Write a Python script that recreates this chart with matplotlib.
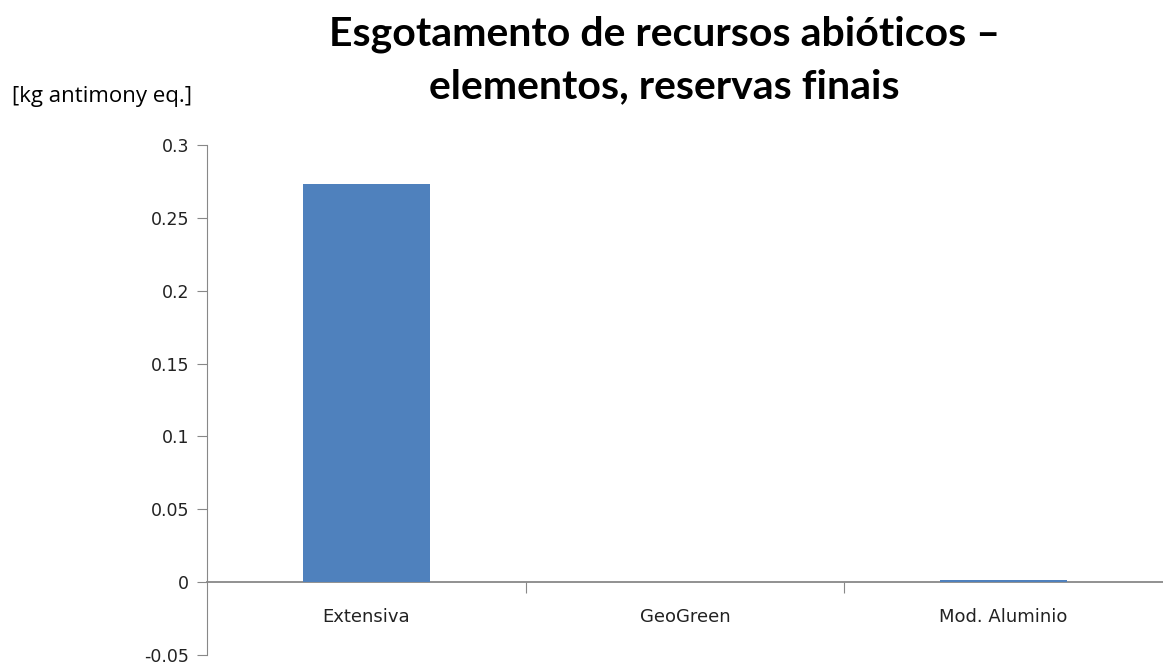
import numpy as np
import matplotlib.pyplot as plt

categorias = ["Extensiva", "GeoGreen", "Mod. Aluminio"]
valores = [0.273, 0.0, 0.0015]
yticks = [-0.05, 0, 0.05, 0.1, 0.15, 0.2, 0.25, 0.3]
ytick_labels = ["-0.05", "0", "0.05", "0.1", "0.15", "0.2", "0.25", "0.3"]
titulo = ["Esgotamento de recursos abióticos –", "elementos, reservas finais"]
unidade = "[kg antimony eq.]"

fig = plt.figure(figsize=(11.63, 6.64), dpi=100)
ax = fig.add_axes([0.178, 0.0136, 0.822, 0.768])

x = np.arange(len(categorias))
ax.bar(x, valores, width=0.4, color="#4F81BD", zorder=3)

ax.set_xlim(-0.5, len(categorias) - 0.5)
ax.set_ylim(-0.05, 0.3)
ax.set_yticks(yticks)
ax.set_yticklabels(ytick_labels, fontsize=12.5, color="#222222")

# eixo x em y=0, com marcas entre as categorias
ax.spines["bottom"].set_position(("data", 0))
ax.spines["bottom"].set_color("#888888")
ax.spines["bottom"].set_linewidth(1.3)
ax.spines["left"].set_color("#888888")
ax.spines["top"].set_visible(False)
ax.spines["right"].set_visible(False)
ax.set_xticks(x[:-1] + 0.5)
ax.set_xticklabels([])
ax.tick_params(axis="x", direction="out", length=8, color="#888888")
ax.tick_params(axis="y", direction="out", length=7, color="#888888", pad=6)

for xi, nome in zip(x, categorias):
    ax.text(xi, -0.0275, nome, ha="center", va="baseline", fontsize=13, color="#222222")

fig.text(0.571, 0.932, titulo[0], ha="center", va="baseline", fontsize=29.5,
         fontweight="bold", family="Lato")
fig.text(0.571, 0.852, titulo[1], ha="center", va="baseline", fontsize=29.5,
         fontweight="bold", family="Lato")
fig.text(0.010, 0.846, unidade, ha="left", va="baseline", fontsize=16,
         family="Open Sans")

fig.savefig("out.png", dpi=100)
